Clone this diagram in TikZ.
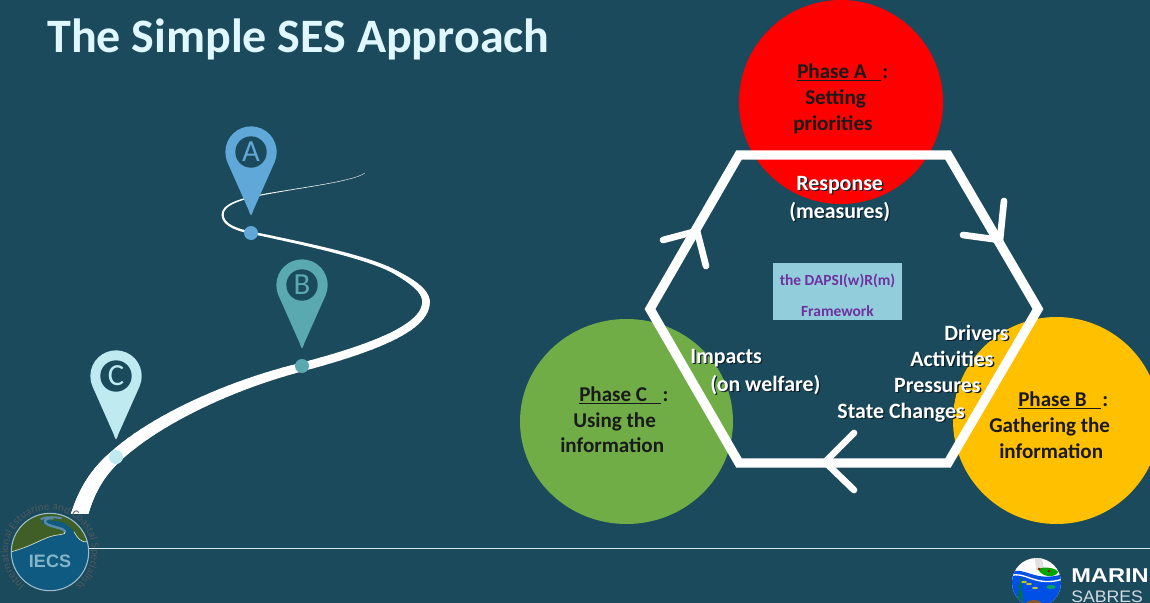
\documentclass[tikz,border=0pt]{standalone}
\usepackage{fontspec}
\setmainfont{Carlito}
\newfontfamily\logofont{Liberation Sans}
\usetikzlibrary{decorations.text}
\definecolor{bgc}{HTML}{1B4A5C}
\definecolor{titlec}{HTML}{E0F7FF}
\definecolor{pina}{HTML}{5FA8D8}
\definecolor{pinb}{HTML}{5AA9B0}
\definecolor{pinc}{HTML}{BFEBF0}
\definecolor{reda}{HTML}{FF0000}
\definecolor{yelb}{HTML}{FFC000}
\definecolor{grec}{HTML}{70AD47}
\definecolor{boxc}{HTML}{92CDDC}
\definecolor{purc}{HTML}{7030A0}
\definecolor{darkt}{HTML}{1A1A1A}
\definecolor{shad}{HTML}{0B222C}
\definecolor{iecsb}{HTML}{0F5A80}
\definecolor{iecsg}{HTML}{3F5F26}
\definecolor{iecst}{HTML}{50585C}
\definecolor{iecsl}{HTML}{86B4C8}
\definecolor{ruleln}{HTML}{D8E8EC}
\newcommand\shtxt[1]{\leavevmode\rlap{\kern1pt\raisebox{-1pt}{\textcolor{shad}{#1}}}#1}
\newcommand\phasetxt[1]{\underline{#1\ \ \ }\kern1pt:}
\newcommand\arcfnt{\fontsize{8.3}{9}\selectfont\color{iecst}}
\pgfmathdeclarefunction{bz}{5}{\pgfmathparse{(1-#5)*(1-#5)*(1-#5)*#1+3*(1-#5)*(1-#5)*#5*#2+3*(1-#5)*#5*#5*#3+#5*#5*#5*#4}}
\newcommand\pin[6]{%
  \fill[#3] (#1+23.5,#2+10.5) arc[start angle=24,end angle=-204,radius=25.7]
     -- (#1-2.4,#2+58) .. controls (#1,#2+65) .. (#1+2.4,#2+58) -- cycle;
  \fill[bgc] (#1,#2) circle[radius=15.7];
  \node[pinlet,text=#3] (#4) at (#1,#2) {#5};
  \fill[#6] (#1,#2+81) circle[radius=7];
}
\tikzset{
  lbl/.style={inner sep=0pt,font=\bfseries\fontsize{15.8}{18}\selectfont,text=darkt,anchor=base west},
  wlbl/.style={lbl,font=\bfseries\fontsize{16.4}{18}\selectfont,text=white},
  pinlet/.style={inner sep=0pt,font=\fontsize{23}{24}\selectfont},
  hexline/.style={draw=white,line width=7pt,miter limit=10},
  chev/.style={draw=white,line width=5pt,line cap=round,line join=miter},
}
\begin{document}
\begin{tikzpicture}[x=0.75pt,y=-0.75pt]
\useasboundingbox (0,0) rectangle (1150,603);
\clip (0,0) rectangle (1150,603);
\fill[bgc] (0,0) rectangle (1150,603);

% title
\node[inner sep=0pt,anchor=base west,text=titlec,font=\bfseries\fontsize{36}{40}\selectfont] (title) at (47,52) {The Simple SES Approach};

% road: a stroke that widens along its length
\begin{scope}
\clip (0,0) rectangle (1150,513);
\foreach \ax/\ay/\bx/\by/\cx/\cy/\dx/\dy/\wa/\wb in {
  365/173/355/180/320/185/290/190/0.3/0.6,
  290/190/260/195/222/200/222.7/215/0.6/2,
  222.7/215/223/226/240/231/258/234/2/2.4,
  258/234/310/245/370/258/395/272/2.4/4,
  395/272/415/283/426/292/426/302/4/7.6,
  426/302/426/325/385/345/302/367/7.6/8.5,
  302/367/230/385/155/420/115/457/8.5/13,
  115/457/95/475/85/495/78.5/518/13/17}{
  \foreach \i in {1,...,24}{
    \pgfmathsetmacro{\ta}{(\i-1)/24}
    \pgfmathsetmacro{\tb}{\i/24}
    \pgfmathsetmacro{\ww}{(\wa+(\wb-\wa)*\tb)*0.75}
    \draw[white,line cap=round,line width=\ww pt]
      ({bz(\ax,\bx,\cx,\dx,\ta)},{bz(\ay,\by,\cy,\dy,\ta)}) --
      ({bz(\ax,\bx,\cx,\dx,\tb)},{bz(\ay,\by,\cy,\dy,\tb)});
  }
}
\end{scope}

% pins
\pin{251}{152}{pina}{pinA}{A}{pina}
\pin{302}{285}{pinb}{pinB}{B}{pinb}
\pin{116}{376}{pinc}{pinC}{C}{pinc}

% phase circles
\fill[reda] (841,102) circle[radius=102];
\fill[yelb] (1056.5,420.5) circle[radius=103.5];
\fill[grec] (626.5,421.5) ellipse[x radius=106.5,y radius=102.5];

% hexagon
\coordinate (h1) at (739,155);
\coordinate (h2) at (948,155);
\coordinate (h3) at (1038,309);
\coordinate (h4) at (948,463);
\coordinate (h5) at (739,463);
\coordinate (h6) at (650,309);
\draw[hexline] (h1) -- (h2) -- (h3) -- (h4) -- (h5) -- (h6) -- cycle;

% chevrons
\draw[chev] (963,235) -- (1000,240) -- (1004,201);
\draw[chev] (663,240) -- (697,231) -- (706,266);
\draw[chev] (854,433) -- (825,462) -- (854,490);

% centre box
\node[draw=none,fill=boxc,minimum width=129*0.75pt,minimum height=57*0.75pt,inner sep=0pt] (box) at (837.5,291.5) {};
\node[inner sep=0pt,text=purc,font=\bfseries\fontsize{11.6}{13}\selectfont] (boxa) at (837.5,281) {the DAPSI(w)R(m)};
\node[inner sep=0pt,text=purc,font=\bfseries\fontsize{11.6}{13}\selectfont] (boxb) at (837.5,311) {Framework};

% phase texts
\node[lbl] (pa1) at (797,78) {\phasetxt{Phase A}};
\node[lbl] (pa2) at (805,104) {Setting};
\node[lbl] (pa3) at (793,130) {priorities};
\node[lbl] (pb1) at (1018,406) {\phasetxt{Phase B}};
\node[lbl] (pb2) at (989,432) {Gathering the};
\node[lbl] (pb3) at (999,458) {information};
\node[lbl] (pc1) at (579,401) {\phasetxt{Phase C}};
\node[lbl] (pc2) at (573,427) {Using the};
\node[lbl] (pc3) at (560,452) {information};

% white labels
\node[wlbl] (resp) at (796,190) {\shtxt{Response}};
\node[wlbl] (meas) at (789,218) {\shtxt{(measures)}};
\node[wlbl] (imp) at (690,363) {\shtxt{Impacts}};
\node[wlbl] (welf) at (710,391) {\shtxt{(on welfare)}};
\node[wlbl,anchor=base east] (drv) at (1009,340) {\shtxt{Drivers}};
\node[wlbl,anchor=base east] (act) at (994,366.5) {\shtxt{Activities}};
\node[wlbl,anchor=base east] (prs) at (981,392.5) {\shtxt{Pressures}};
\node[wlbl,anchor=base east] (stc) at (965,418.5) {\shtxt{State Changes}};

% rule
\draw[ruleln,line width=1.1pt] (89,548.5) -- (1150,548.5);

% IECS logo
\begin{scope}
\clip (50,552) circle[radius=38.7];
\fill[iecsb] (50,552) circle[radius=38.7];
\begin{scope}[shift={(0,490)},x=0.25pt,y=-0.25pt]
\fill[iecsg] (35,185) .. controls (90,170) and (120,150) .. (150,140) .. controls (175,132) and (200,135) .. (195,125) .. controls (190,112) and (125,110) .. (125,95) .. controls (125,85) and (145,82) .. (170,80) -- (170,40) -- (20,40) -- cycle;
\fill[iecsg] (150,92) .. controls (180,90) and (205,100) .. (222,125) .. controls (232,142) and (240,158) .. (262,155) -- (285,150) -- (285,40) -- (150,40) -- cycle;
\draw[iecsb!70!white,line width=1.5pt] (122,88) .. controls (140,78) and (170,82) .. (185,85);
\draw[iecsb!70!white,line width=1.8pt] (195,128) .. controls (200,110) and (130,112) .. (135,92) .. controls (138,85) and (145,84) .. (160,85);
\draw[white!80!iecsg,line width=0.5pt] (35,185) .. controls (90,170) and (120,150) .. (150,140) .. controls (175,132) and (200,135) .. (195,125);
\draw[white!80!iecsg,line width=0.5pt] (222,125) .. controls (232,142) and (240,158) .. (262,155);
\end{scope}
\end{scope}
\draw[white!60!iecsb,line width=0.8pt] (50,552) circle[radius=38.7];
\node[inner sep=0pt,text=iecsl,font=\logofont\bfseries\fontsize{13.5}{15}\selectfont] (iecs) at (50,561.5) {IECS};
\path[decorate,decoration={text along path,text align={fit to path},text={|\arcfnt|International Estuarine and Coastal Specialists}}]
  (24.7,585.5) arc[start angle=127,end angle=413,radius=42];

% Marine Sabres logo
\begin{scope}
\clip (1036.5,582.5) circle[radius=24.5];
\fill[white] (1010,555) rectangle (1063,610);
\fill[black!12] (1035,558) -- (1042,558) -- (1044,570) -- (1036,570) -- cycle;
\fill[green!65!black] (1038,569) .. controls (1045,566) and (1056,568) .. (1058,572) .. controls (1056,578) and (1042,578) .. cycle;
\fill[red!70!black] (1039,569) circle[radius=1.4] (1049,571) circle[radius=1.4];
\fill[blue!65!cyan!90!black] (1010,572) .. controls (1025,566) and (1035,583) .. (1063,574) -- (1063,610) -- (1010,610) -- cycle;
\draw[white,line width=1pt] (1010,576) .. controls (1025,570) and (1035,588) .. (1063,579);
\fill[yellow!75!black] (1024,582) ellipse[x radius=3,y radius=1.2] (1029,584) ellipse[x radius=3,y radius=1.2] (1035,588) ellipse[x radius=3,y radius=1.2];
\fill[teal!70!green] (1051,587) ellipse[x radius=4.5,y radius=2];
\draw[green!50!black,line width=1pt] (1019,600) -- (1021,578) (1023,602) -- (1019,585);
\fill[brown!70!black] (1034,606) ellipse[x radius=9,y radius=6];
\end{scope}
\node[inner sep=0pt,anchor=base west,text=white,xscale=1.18,font=\logofont\bfseries\fontsize{15}{18}\selectfont] (mar) at (1071,582) {MARIN};
\node[inner sep=0pt,anchor=base west,text=white!80!bgc,xscale=1.06,font=\logofont\fontsize{12.5}{15}\selectfont] (sab) at (1071,602.5) {SABRES};
\end{tikzpicture}
\end{document}
